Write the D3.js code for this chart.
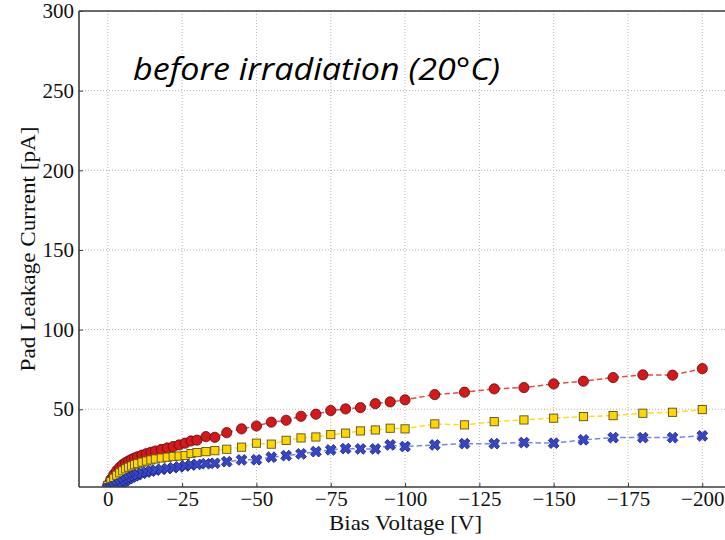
<!DOCTYPE html>
<html>
<head>
<meta charset="utf-8">
<script src="https://cdn.jsdelivr.net/npm/d3@7"></script>
<style>
  html, body { margin: 0; padding: 0; background: #ffffff; }
  svg { display: block; }
</style>
</head>
<body>
<svg id="chart" width="725" height="540"></svg>
<script>
// ---- data ----
const volts = [0,-1,-2,-3,-4,-5,-6,-7,-8,-9,-10,-11.5,-13,-14.5,-16,-18,-20,-22,-24,-26,-28,-30,-33,-36,
  -40,-45,-50,-55,-60,-65,-70,-75,-80,-85,-90,-95,-100,-110,-120,-130,-140,-150,-160,-170,-180,-190,-200];

const redCurrent = [2.5,6,9,11.5,13.5,15.2,16.5,17.6,18.6,19.4,20.2,21.2,22.1,23,23.8,24.8,25.7,26.6,27.6,28.7,30.1,30.6,32.8,32.4,
  35.3,37.7,39.5,41.9,43.1,45.6,46.9,49.2,50.2,51.0,53.5,54.6,55.9,59.2,60.7,62.8,63.6,65.9,67.6,69.9,71.6,71.4,75.5];

const yellowCurrent = [2.2,4.5,6.7,8.6,10.1,11.4,12.6,13.6,14.4,15.2,15.9,16.8,17.5,18.2,18.8,19.4,19.9,20.3,20.6,21.0,22.2,22.8,23.4,24.0,
  24.9,26.2,28.7,28.1,30.5,32.0,32.6,34.1,35.0,36.4,37.0,38.1,37.7,40.8,40.2,42.2,43.3,44.4,45.4,46.0,47.5,48.1,49.8];

const blueCurrent = [0.3,0.8,1.5,2.3,3.2,4.2,5.3,6.4,7.4,8.2,8.9,9.8,10.6,11.2,11.8,12.3,12.8,13.3,13.8,14.4,15.0,15.4,15.8,16.1,
  17.1,18.2,18.3,19.9,20.9,22.0,23.4,24.5,25.3,25.1,25.1,27.6,26.6,27.6,28.4,28.4,29.1,28.7,30.8,32.2,32.2,32.2,33.3];

const xTicks = [0,-25,-50,-75,-100,-125,-150,-175,-200];
const yTicks = [50,100,150,200,250,300];

const titleText = "before irradiation (20°C)";
const xLabel = "Bias Voltage [V]";
const yLabel = "Pad Leakage Current [pA]";

// ---- layout ----
const svg = d3.select("#chart");
const L = 79, T = 11, B = 487, R = 732;

const x = d3.scaleLinear().domain([9.7, -210]).range([L, R]);
const y = d3.scaleLinear().domain([1.2, 300]).range([B, T]);

const spineColor = "#3c3c3c";
const gridColor = "#b4b4b4";

// clip
svg.append("defs").append("clipPath").attr("id", "plotclip")
  .append("rect").attr("x", L).attr("y", T).attr("width", R - L).attr("height", B - T);

// grid
const grid = svg.append("g");
grid.selectAll("line.vg").data(xTicks).join("line")
  .attr("x1", d => x(d)).attr("x2", d => x(d))
  .attr("y1", T).attr("y2", B)
  .attr("stroke", gridColor).attr("stroke-width", 1).attr("stroke-dasharray", "1,2");
grid.selectAll("line.hg").data(yTicks).join("line")
  .attr("x1", L).attr("x2", R)
  .attr("y1", d => y(d)).attr("y2", d => y(d))
  .attr("stroke", gridColor).attr("stroke-width", 1).attr("stroke-dasharray", "1,2");

// series
const series = [
  { name: "red", values: redCurrent, line: "#ec4a45", fill: "#d8171b", stroke: "#4a1010", shape: "circle" },
  { name: "yellow", values: yellowCurrent, line: "#ffdc1e", fill: "#fdd600", stroke: "#5c5020", shape: "square" },
  { name: "blue", values: blueCurrent, line: "#7585ec", fill: "#3646cc", stroke: "#1c2470", shape: "x" }
];

const plot = svg.append("g").attr("clip-path", "url(#plotclip)");
const lineGen = d3.line().x(d => x(d[0])).y(d => y(d[1]));

const xMarker = d3.symbol().type(d3.symbolCross).size(72);

series.forEach(s => {
  const pts = volts.map((v, i) => [v, s.values[i]]);
  const g = plot.append("g");
  g.append("path").datum(pts)
    .attr("d", lineGen)
    .attr("fill", "none")
    .attr("stroke", s.line)
    .attr("stroke-width", 1.5)
    .attr("stroke-dasharray", "5.5,3");
  if (s.shape === "circle") {
    g.selectAll("circle").data(pts).join("circle")
      .attr("cx", d => x(d[0])).attr("cy", d => y(d[1])).attr("r", 5.1)
      .attr("fill", s.fill).attr("stroke", s.stroke).attr("stroke-width", 0.8);
  } else if (s.shape === "square") {
    const h = 4.1;
    g.selectAll("rect").data(pts).join("rect")
      .attr("x", d => x(d[0]) - h).attr("y", d => y(d[1]) - h)
      .attr("width", 2 * h).attr("height", 2 * h)
      .attr("fill", s.fill).attr("stroke", s.stroke).attr("stroke-width", 0.9);
  } else {
    g.selectAll("path.mk").data(pts).join("path").attr("class", "mk")
      .attr("d", xMarker)
      .attr("transform", d => `translate(${x(d[0])},${y(d[1])}) rotate(45)`)
      .attr("fill", s.fill).attr("stroke", s.stroke).attr("stroke-width", 0.8);
  }
});

// axes
const fmt = d => (d < 0 ? "\u2212" + Math.abs(d) : String(d));
const xAxis = svg.append("g").attr("transform", `translate(0,${B})`)
  .call(d3.axisBottom(x).tickValues(xTicks).tickFormat(fmt).tickSize(-4).tickPadding(4));
const yAxis = svg.append("g").attr("transform", `translate(${L},0)`)
  .call(d3.axisLeft(y).tickValues(yTicks).tickFormat(fmt).tickSize(-4).tickPadding(5));

[xAxis, yAxis].forEach(a => {
  a.select(".domain").remove();
  a.selectAll(".tick line").attr("stroke", spineColor).attr("stroke-width", 1);
  a.selectAll(".tick text")
    .attr("fill", "#111")
    .style("font-family", "'Liberation Serif', 'Times New Roman', serif")
    .style("font-size", "21px");
});

// spines
const sp = svg.append("g").attr("stroke", spineColor).attr("stroke-width", 1.6).attr("fill", "none");
sp.append("line").attr("x1", L).attr("x2", L).attr("y1", T).attr("y2", B);
sp.append("line").attr("x1", L).attr("x2", R).attr("y1", B).attr("y2", B);
sp.append("line").attr("x1", L).attr("x2", R).attr("y1", T).attr("y2", T);
sp.append("line").attr("x1", R).attr("x2", R).attr("y1", T).attr("y2", B);

// axis labels
svg.append("text")
  .attr("x", (L + R) / 2).attr("y", 530)
  .attr("text-anchor", "middle")
  .attr("textLength", 153).attr("lengthAdjust", "spacingAndGlyphs")
  .style("font-family", "'Liberation Serif', 'Times New Roman', serif")
  .style("font-size", "22px").attr("fill", "#111")
  .text(xLabel);

svg.append("text")
  .attr("transform", `translate(35,${(T + B) / 2}) rotate(-90)`)
  .attr("text-anchor", "middle")
  .attr("textLength", 245).attr("lengthAdjust", "spacingAndGlyphs")
  .style("font-family", "'Liberation Serif', 'Times New Roman', serif")
  .style("font-size", "22px").attr("fill", "#111")
  .text(yLabel);

// title annotation
svg.append("text")
  .attr("x", 133).attr("y", 80)
  .attr("textLength", 367).attr("lengthAdjust", "spacingAndGlyphs")
  .style("font-family", "'Open Sans', 'Noto Sans', sans-serif")
  .style("font-style", "italic")
  .style("font-size", "31px").attr("fill", "#000")
  .text(titleText);
</script>
</body>
</html>
